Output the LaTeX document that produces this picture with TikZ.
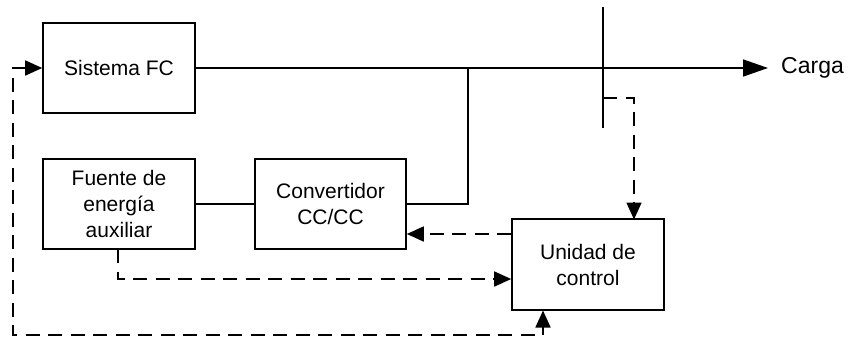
\documentclass[tikz,border=0pt]{standalone}
\usepackage{fontspec}
\setmainfont{Liberation Sans}
\usetikzlibrary{arrows.meta,calc}
\tikzset{
  blk/.style={draw, line width=1.6pt, minimum width=152pt, minimum height=90pt, inner sep=0pt, align=center, font=\fontsize{21}{26}\selectfont},
  wire/.style={line width=1.6pt},
  ctrl/.style={line width=1.7pt, dash pattern=on 14pt off 8.5pt},
  tip/.style={-{Triangle[length=17pt,width=15pt]}},
  tipb/.style={{Triangle[length=17pt,width=15pt]}-{Triangle[length=17pt,width=15pt]}},
}
\begin{document}
\begin{tikzpicture}[x=1pt,y=-1pt]
\useasboundingbox (0,0) rectangle (848,338);
\node[blk] (sfc) at (119,68) {Sistema FC};
\node[blk] (fuente) at (119,204) {Fuente de\\energía\\auxiliar};
\node[blk, minimum width=151pt] (conv) at (330.5,204) {Convertidor\\CC/CC};
\node[blk, minimum height=91pt] (uc) at (588,264.5) {Unidad de\\control};
\node[anchor=west, inner sep=0pt, font=\fontsize{23}{26}\selectfont] (carga) at (781,68) {Carga};
\coordinate (busT) at (603,7);
\coordinate (busB) at (603,128);
\coordinate (j) at (468,68);
\coordinate (cend) at (768,68);
\coordinate (b1) at (603,98);
\coordinate (uctop) at (634,219.5);
\coordinate (c234) at (0,234);
\coordinate (c279) at (0,279);
\coordinate (fdown) at (118,249);
\coordinate (bl) at (13,335);
\coordinate (ucbot) at (543,310.5);
% power wiring
\draw[wire] (busT) -- (busB);
\draw[wire, -{Triangle[length=25pt,width=17pt]}] (sfc.east) -- (cend);
\draw[wire] (j) |- (conv.east);
\draw[wire] (fuente.east) -- (conv.west);
% control signals
\draw[ctrl, tip] (b1) -| (uctop);
\draw[ctrl, tip] (uc.west |- c234) -- (conv.east |- c234);
\draw[ctrl, tip] (fdown) |- (uc.west |- c279);
\draw[ctrl, tipb] (sfc.west) -| (bl) -| (ucbot);
\end{tikzpicture}
\end{document}
